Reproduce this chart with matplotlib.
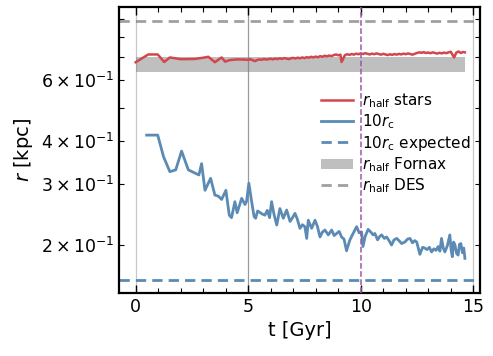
import numpy as np
import matplotlib
matplotlib.use("Agg")
import matplotlib.pyplot as plt
from matplotlib.ticker import MultipleLocator

# ---------------- data ----------------
t_stars = [0.0, 0.56, 0.98, 1.27, 1.52, 2.0, 2.63, 3.08, 3.23, 3.52, 3.82, 3.97, 4.2, 4.5, 4.86,
           5.0, 5.1, 5.2, 5.3, 5.4, 5.5, 5.6, 5.7, 5.8, 5.9,
           6.0, 6.1, 6.2, 6.3, 6.4, 6.5, 6.6, 6.7, 6.8, 6.9,
           7.0, 7.1, 7.2, 7.3, 7.4, 7.5, 7.6, 7.7, 7.8, 7.9,
           8.0, 8.1, 8.2, 8.3, 8.4, 8.5, 8.6, 8.7, 8.8, 8.9,
           9.0, 9.1, 9.15, 9.3, 9.4, 9.5, 9.6, 9.7, 9.8, 9.9,
           10.0, 10.1, 10.2, 10.3, 10.4, 10.5, 10.6, 10.7, 10.8, 10.9,
           11.0, 11.1, 11.2, 11.3, 11.4, 11.5, 11.6, 11.7, 11.8, 11.9,
           12.0, 12.1, 12.2, 12.3, 12.4, 12.5, 12.6, 12.7, 12.8, 12.9,
           13.0, 13.1, 13.2, 13.3, 13.4, 13.5, 13.6, 13.7, 13.8, 13.9,
           14.0, 14.15, 14.25, 14.35, 14.45, 14.55, 14.63]
r_stars = [0.676, 0.712, 0.712, 0.677, 0.698, 0.690, 0.691, 0.698, 0.701, 0.676, 0.698, 0.679, 0.686, 0.689, 0.688,
           0.687, 0.690, 0.685, 0.681, 0.686, 0.689, 0.687, 0.691, 0.688, 0.690,
           0.692, 0.689, 0.693, 0.690, 0.694, 0.691, 0.695, 0.693, 0.690, 0.694,
           0.696, 0.693, 0.697, 0.694, 0.698, 0.695, 0.699, 0.697, 0.701, 0.698,
           0.702, 0.699, 0.704, 0.701, 0.706, 0.703, 0.707, 0.704, 0.709, 0.712,
           0.708, 0.711, 0.677, 0.709, 0.713, 0.710, 0.714, 0.711, 0.716, 0.713,
           0.717, 0.714, 0.718, 0.715, 0.712, 0.716, 0.713, 0.717, 0.714, 0.711,
           0.715, 0.712, 0.709, 0.713, 0.710, 0.714, 0.711, 0.715, 0.712, 0.716,
           0.713, 0.717, 0.714, 0.711, 0.715, 0.719, 0.722, 0.720, 0.723, 0.719,
           0.721, 0.718, 0.722, 0.719, 0.716, 0.720, 0.717, 0.721, 0.718, 0.722,
           0.725, 0.698, 0.721, 0.726, 0.719, 0.724, 0.722]

t_core = [0.49, 0.98, 1.24, 1.52, 1.78, 2.04, 2.34, 2.81, 2.93, 3.08,
          3.33, 3.52, 3.67, 3.82, 4.01, 4.16, 4.26, 4.41, 4.51, 4.71,
          4.86, 4.93, 5.03, 5.15, 5.26, 5.33, 5.42, 5.5, 5.62, 5.74,
          5.85, 5.95, 6.04, 6.15, 6.27, 6.41, 6.56, 6.71, 6.86, 6.97,
          7.08, 7.18, 7.3, 7.41, 7.52, 7.6, 7.67, 7.82, 7.97, 8.08,
          8.19, 8.3, 8.41, 8.56, 8.71, 8.82, 8.93, 9.04, 9.15, 9.26,
          9.37, 9.52, 9.63, 9.74, 9.82, 9.93, 10.04, 10.1, 10.2, 10.33,
          10.45, 10.55, 10.63, 10.75, 10.85, 10.93, 11.05, 11.15, 11.26, 11.37,
          11.48, 11.6, 11.7, 11.82, 11.96, 12.08, 12.19, 12.3, 12.4, 12.49,
          12.63, 12.75, 12.85, 12.95, 13.05, 13.15, 13.25, 13.35, 13.44, 13.52,
          13.59, 13.67, 13.74, 13.85, 13.96, 14.02, 14.07, 14.13, 14.19, 14.26,
          14.33, 14.39, 14.45, 14.52, 14.58, 14.63]
r_core = [0.416, 0.416, 0.360, 0.326, 0.330, 0.374, 0.330, 0.319, 0.344, 0.288,
          0.312, 0.279, 0.277, 0.271, 0.288, 0.244, 0.240, 0.267, 0.248, 0.273,
          0.262, 0.268, 0.302, 0.268, 0.242, 0.239, 0.251, 0.249, 0.246, 0.244,
          0.252, 0.240, 0.267, 0.245, 0.2285, 0.255, 0.239, 0.2525, 0.234, 0.240,
          0.247, 0.238, 0.2235, 0.229, 0.226, 0.209, 0.236, 0.2235, 0.236, 0.226,
          0.211, 0.218, 0.221, 0.214, 0.221, 0.213, 0.216, 0.219, 0.211, 0.208,
          0.1925, 0.207, 0.214, 0.221, 0.226, 0.217, 0.218, 0.198, 0.212, 0.222,
          0.218, 0.214, 0.216, 0.207, 0.212, 0.214, 0.209, 0.211, 0.206, 0.200,
          0.207, 0.209, 0.206, 0.202, 0.204, 0.208, 0.209, 0.203, 0.206, 0.204,
          0.188, 0.197, 0.196, 0.194, 0.197, 0.191, 0.195, 0.193, 0.198, 0.192,
          0.209, 0.196, 0.191, 0.199, 0.214, 0.193, 0.185, 0.204, 0.200, 0.189,
          0.187, 0.201, 0.202, 0.190, 0.196, 0.183]

rc_expected = 0.158
fornax_rhalf = 0.668
fornax_err = 0.034
des_rhalf = 0.890
t_mark = 10.0
t_vlines = [0, 5, 15]

labels = [r"$r_{\rm half}$ stars", r"$10r_{\rm c}$", r"$10r_{\rm c}$ expected",
          r"$r_{\rm half}$ Fornax", r"$r_{\rm half}$ DES"]

# ---------------- plot ----------------
fig = plt.figure(figsize=(4.93, 3.56), dpi=100)
ax = fig.add_axes([0.2414, 0.177, 0.7322, 0.803])

red = "#d1474c"
blue = "#5b8ab4"

for tv in t_vlines:
    ax.axvline(tv, color="#9a9a9a" if tv == 5 else "#c8c8c8", lw=0.9, zorder=0)

l1, = ax.plot(t_stars, r_stars, color=red, lw=1.8, zorder=4)
l2, = ax.plot(t_core, r_core, color=blue, lw=2.0, zorder=4)
l3 = ax.axhline(rc_expected, color=blue, ls="--", lw=2.0, dashes=(3.7, 2.2))
band = ax.fill_between([t_stars[0], t_stars[-1]], fornax_rhalf - fornax_err,
                       fornax_rhalf + fornax_err, color="gray", alpha=0.5, lw=0, zorder=2)
l5 = ax.axhline(des_rhalf, color="gray", alpha=0.75, ls="--", lw=2.0, dashes=(3.7, 2.2))
ax.axvline(t_mark, color="#9b59a6", ls="--", lw=1.1, zorder=5)

ax.set_yscale("log")
ax.set_xlim(-0.74, 15.3)
ax.set_ylim(0.1453, 0.976)

ax.xaxis.set_major_locator(MultipleLocator(5))
ax.xaxis.set_minor_locator(MultipleLocator(1))
ax.tick_params(which="both", direction="in", top=True, right=True, labelsize=12.5)
ax.tick_params(which="major", length=6, width=1.0)
ax.tick_params(which="minor", length=3.5, width=0.8)
for s in ax.spines.values():
    s.set_linewidth(1.6)

ax.set_xlabel("t [Gyr]", fontsize=14)
ax.set_ylabel(r"$r$ [kpc]", fontsize=14)

ax.legend([l1, l2, l3, band, l5], labels, loc="lower right",
          bbox_to_anchor=(1.0, 0.31), frameon=False, fontsize=11,
          handlelength=2.1, labelspacing=0.17, handletextpad=0.6, borderaxespad=0.2)

fig.savefig("out.png", dpi=100)
